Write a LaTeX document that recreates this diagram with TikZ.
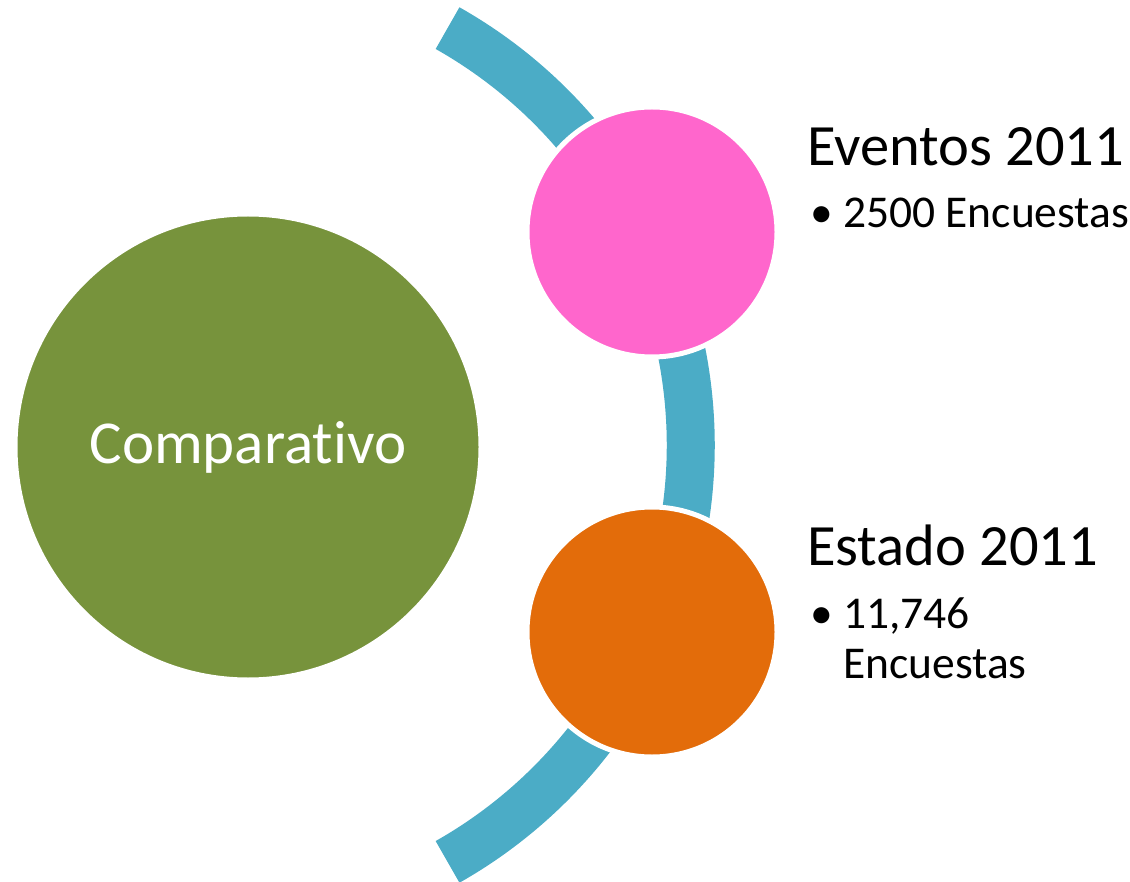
\documentclass[tikz,border=0pt]{standalone}
\usepackage{fontspec}
\setmainfont{Carlito}[Ligatures=NoCommon]
\usetikzlibrary{calc}
\definecolor{cgreen}{HTML}{77933C}
\definecolor{cpink}{HTML}{FF66CC}
\definecolor{corange}{HTML}{E36C0A}
\definecolor{cblue}{HTML}{4BACC6}
\tikzset{
  bubble/.style={circle, draw=white, line width=5pt, inner sep=0pt},
  title/.style={anchor=base west, inner sep=0pt, font=\fontsize{58.5}{68}\selectfont},
  item/.style={anchor=base west, inner sep=0pt, font=\fontsize{45.5}{50}\selectfont},
}
\begin{document}
\begin{tikzpicture}[x=1pt,y=-1pt]
\useasboundingbox (0,0) rectangle (1130,882);
\coordinate (arcc) at (211.7,445);
\draw[cblue, line width=48pt] ($(arcc)+(-60.5:479)$) arc[start angle=-60.5, end angle=60.5, radius=479];
\node[bubble, fill=cgreen, minimum size=466pt, text=white, font=\fontsize{61}{70}\selectfont] (comp) at (248,447) {Comparativo};
\node[bubble, fill=cpink, minimum size=250pt] (ev) at (652,232) {};
\node[bubble, fill=corange, minimum size=250pt] (es) at (652,632) {};
\node[title] (evt) at (807,166) {Eventos 2011};
\node[item] (evb) at (810,228) {•};
\node[item] (evi) at (843,228) {2500 Encuestas};
\node[title] (est) at (807,565) {Estado 2011};
\node[item] (esb) at (810,628) {•};
\node[item] (esi) at (843,628) {11,746};
\node[item] (esj) at (843,678) {Encuestas};
\end{tikzpicture}
\end{document}
